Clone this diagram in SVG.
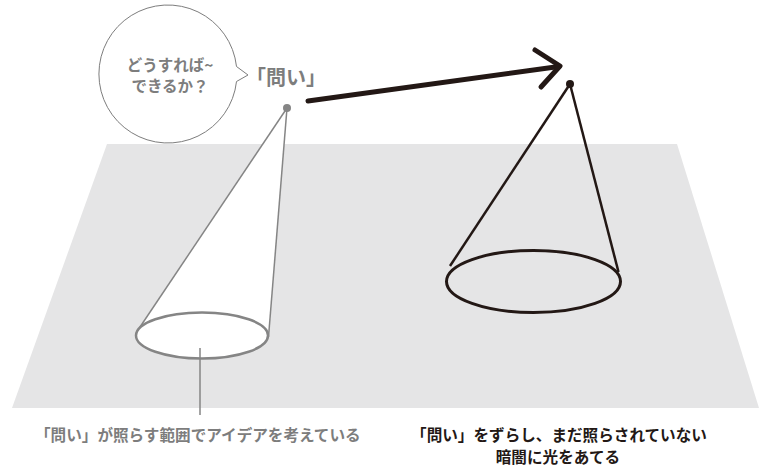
<svg xmlns="http://www.w3.org/2000/svg" width="759" height="468" viewBox="0 0 759 468">
<style>
.t{font-family:"Noto Sans CJK JP","Noto Sans",sans-serif;font-weight:bold}
.grey{fill:#7d7d7d}
.dark{fill:#231815}
</style>
<rect width="759" height="468" fill="#fff"/>
<g id="plane"><polygon points="107,144 677,144 759,408 12,408" fill="#e5e5e6"/></g>
<g id="bubble">
<path d="M236.5,66.5 A69,69 0 1 0 236.5,81.5 L248,75 Z" fill="#fff" stroke="#7d7d7d" stroke-width="1"/>
<text class="t grey" x="170" y="71" font-size="15.5" text-anchor="middle">どうすれば~</text>
<text class="t grey" x="170" y="92" font-size="15.5" text-anchor="middle">できるか？</text>
</g>
<g id="question-label"><text class="t grey" x="286" y="85" font-size="20" text-anchor="middle">「問い」</text></g>
<g id="left-cone">
<polygon points="287,108 140,327 202,358 268.5,337" fill="#fff"/>
<line x1="287" y1="108" x2="140" y2="327" stroke="#858585" stroke-width="1.5"/>
<line x1="287" y1="108" x2="268.5" y2="337" stroke="#858585" stroke-width="1.5"/>
<ellipse cx="202" cy="335.5" rx="66" ry="23" fill="#fff" stroke="#858585" stroke-width="2.5"/>
<circle cx="287" cy="108" r="4" fill="#858585"/>
</g>
<g id="right-cone">
<line x1="570" y1="84" x2="450" y2="266" stroke="#231815" stroke-width="2.5"/>
<line x1="570" y1="84" x2="618.5" y2="272" stroke="#231815" stroke-width="2.5"/>
<ellipse cx="533.5" cy="281.5" rx="87" ry="31" fill="none" stroke="#231815" stroke-width="3"/>
<circle cx="570" cy="84" r="4" fill="#231815"/>
</g>
<g id="connectors" fill="none" stroke-linecap="round" stroke-linejoin="round">
<line x1="308" y1="101" x2="559" y2="66.5" stroke="#231815" stroke-width="5"/>
<polyline points="535,50 560,66 541,87" stroke="#231815" stroke-width="5"/>
<line x1="200" y1="348" x2="200" y2="415" stroke="#858585" stroke-width="1.5" stroke-linecap="butt"/>
</g>
<g id="captions">
<text class="t grey" x="35" y="441" font-size="15.6">「問い」が照らす範囲でアイデアを考えている</text>
<text class="t dark" x="559" y="441" font-size="15.6" text-anchor="middle">「問い」をずらし、まだ照らされていない</text>
<text class="t dark" x="558" y="463" font-size="15.6" text-anchor="middle">暗闇に光をあてる</text>
</g>
</svg>
